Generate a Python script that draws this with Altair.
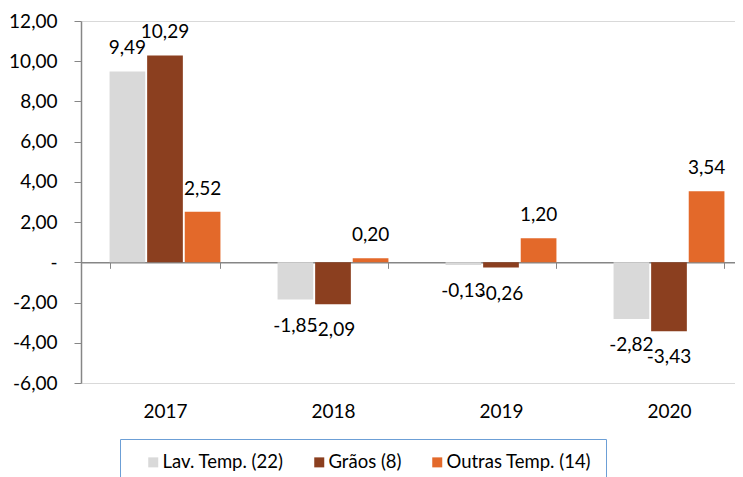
import altair as alt
import pandas as pd

years = ["2017", "2018", "2019", "2020"]
series = ["Lav. Temp. (22)", "Grãos (8)", "Outras Temp. (14)"]
lav_temp = [9.49, -1.85, -0.13, -2.82]
graos = [10.29, -2.09, -0.26, -3.43]
outras_temp = [2.52, 0.20, 1.20, 3.54]
colors = ["#D9D9D9", "#8B3F1F", "#E3692A"]
y_ticks = [-6, -4, -2, 0, 2, 4, 6, 8, 10, 12]

rows = []
for name, vals in zip(series, [lav_temp, graos, outras_temp]):
    for yr, v in zip(years, vals):
        rows.append({"ano": yr, "serie": name, "valor": v,
                     "rotulo": f"{v:.2f}".replace(".", ",")})
df = pd.DataFrame(rows)

FONT = "Lato"
FS = 19
H = 362
zero_off = -H * 6 / 18  # move x axis to y = 0

x_enc = alt.X(
    "ano:N", sort=years, title=None,
    scale=alt.Scale(range=[0, 672], paddingInner=0.34, paddingOuter=0.17),
    axis=alt.Axis(offset=zero_off, domainColor="#868686", domainWidth=1.5,
                  tickColor="#868686", tickSize=6, tickBand="extent",
                  labelAngle=0, labelFontSize=FS, labelFont=FONT,
                  labelColor="#000000", labelPadding=134, labelBaseline="top"),
)
xo_enc = alt.XOffset("serie:N", sort=series,
                     scale=alt.Scale(paddingInner=0.05, paddingOuter=0))
y_scale = alt.Scale(domain=[-6, 12], nice=False, zero=False)

zero_lbl = "-\u00a0\u00a0\u00a0"
bars = alt.Chart(df).mark_bar().encode(
    x=x_enc, xOffset=xo_enc,
    y=alt.Y("valor:Q", scale=y_scale, title=None,
            axis=alt.Axis(values=y_ticks, domainColor="#868686", domainWidth=1.5,
                          tickColor="#868686", tickSize=7, labelPadding=17,
                          labelFontSize=FS, labelFont=FONT, labelColor="#000000",
                          labelExpr=("datum.value == 0 ? '" + zero_lbl + "' : "
                                     "(datum.value < 0 ? '-' : '') + "
                                     "replace(format(abs(datum.value), '.2f'), '.', ',')"),
                          grid=True,
                          gridColor={"condition": {"test": "datum.value == 12 || datum.value == -6",
                                                   "value": "#D9D9D9"},
                                     "value": "transparent"})),
    color=alt.Color("serie:N", sort=series,
                    scale=alt.Scale(domain=series, range=colors),
                    legend=alt.Legend(orient="none", legendX=39, legendY=418,
                                      direction="horizontal", title=None,
                                      strokeColor="#6C9FD6", fillColor="white",
                                      padding=14, symbolType="square",
                                      symbolSize=100, symbolStrokeWidth=0,
                                      symbolOffset=10, columnPadding=16,
                                      labelOffset=0, labelFontSize=18.5,
                                      labelFont=FONT, labelColor="#000000")),
)

pos_text = alt.Chart(df).transform_filter("datum.valor >= 0").mark_text(
    baseline="middle", dy=-23, fontSize=FS, font=FONT, color="#000000"
).encode(x=x_enc, xOffset=xo_enc, y=alt.Y("valor:Q", scale=y_scale),
         text="rotulo:N")

neg_text = alt.Chart(df).transform_filter("datum.valor < 0").mark_text(
    baseline="middle", dy=26, fontSize=FS, font=FONT, color="#000000"
).encode(x=x_enc, xOffset=xo_enc, y=alt.Y("valor:Q", scale=y_scale),
         text="rotulo:N")

chart = alt.layer(bars, pos_text, neg_text).properties(
    width=654, height=H,
    autosize=alt.AutoSizeParams(type="none"),
    padding={"left": 73, "top": 13, "right": 0, "bottom": 94},
).configure_view(stroke=None)

chart.save("out.html", embed_options={"renderer": "svg", "actions": False})
